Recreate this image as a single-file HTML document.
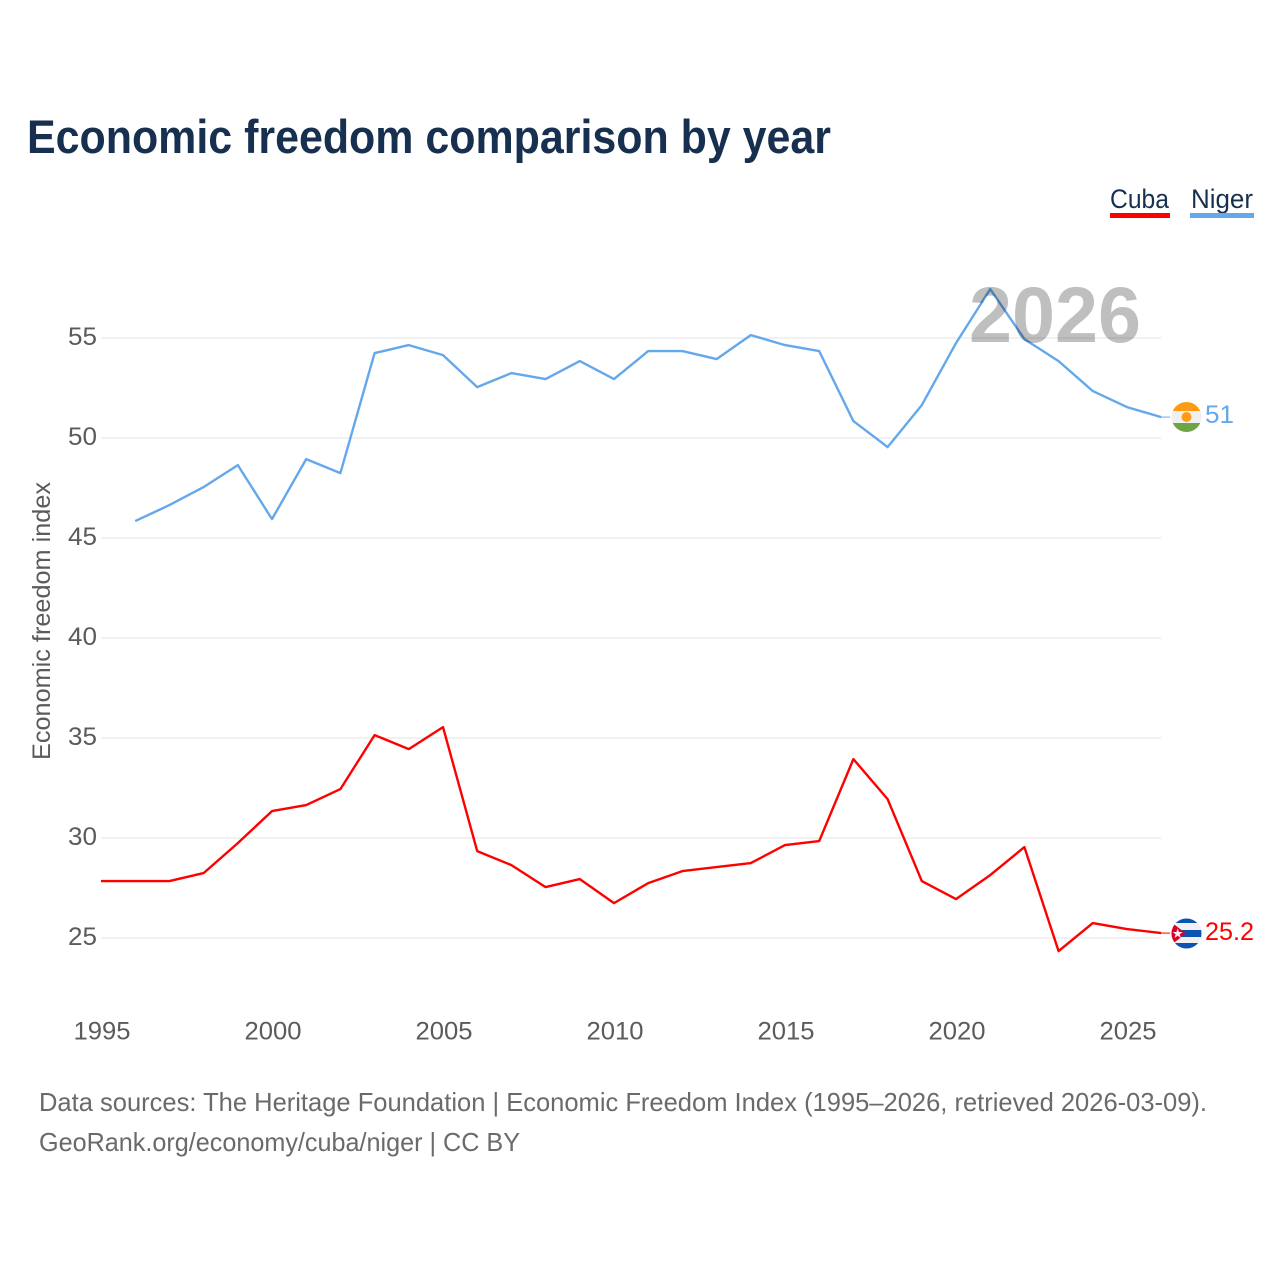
<!DOCTYPE html>
<html lang="en">
<head>
<meta charset="utf-8">
<title>Economic freedom comparison by year</title>
<style>
html,body{margin:0;padding:0;background:#fff}
svg{display:block}
text{font-family:"Liberation Sans",sans-serif}
</style>
</head>
<body>
<svg id="chart" xmlns="http://www.w3.org/2000/svg" width="1280" height="1280" viewBox="0 0 1280 1280">
  <rect width="1280" height="1280" fill="#fff"/>
  <text x="27" y="153" font-size="47" font-weight="700" fill="#18304f" textLength="804" lengthAdjust="spacingAndGlyphs">Economic freedom comparison by year</text>

  <g>
    <text x="1110" y="208" font-size="27" fill="#18304f" textLength="59" lengthAdjust="spacingAndGlyphs">Cuba</text>
    <rect x="1110" y="213" width="60" height="5" fill="#ff0000"/>
  </g>
  <g>
    <text x="1191" y="208" font-size="27" fill="#18304f" textLength="62" lengthAdjust="spacingAndGlyphs">Niger</text>
    <rect x="1190" y="213" width="64" height="5" fill="#64a8ec"/>
  </g>

  <g id="grid"></g>
  <g id="yticks"></g>
  <g id="xticks"></g>
  <text transform="translate(50,621) rotate(-90)" text-anchor="middle" font-size="25" fill="#5b5b5b" textLength="278" lengthAdjust="spacingAndGlyphs">Economic freedom index</text>

  <g id="series"></g>
  <text x="969" y="342" font-size="79" font-weight="700" fill="#000" fill-opacity="0.25" textLength="172" lengthAdjust="spacingAndGlyphs">2026</text>

  <defs>
    <clipPath id="clip-niger"><circle cx="1186.5" cy="417" r="15"/></clipPath>
    <clipPath id="clip-cuba"><circle cx="1186.5" cy="933.5" r="15"/></clipPath>
  </defs>
  <g clip-path="url(#clip-niger)">
    <rect x="1171" y="402" width="31" height="9.5" fill="#ff9a17"/>
    <rect x="1171" y="411" width="31" height="12" fill="#f0f0f0"/>
    <rect x="1171" y="423" width="31" height="9" fill="#6da544"/>
    <circle cx="1186.5" cy="417" r="5" fill="#ff9a17"/>
  </g>
  <g clip-path="url(#clip-cuba)">
    <rect x="1171" y="918" width="31" height="31" fill="#f0f0f0"/>
    <rect x="1171" y="918" width="31" height="5" fill="#0a52b4"/>
    <rect x="1171" y="930" width="31" height="7" fill="#0a52b4"/>
    <rect x="1171" y="943" width="31" height="6" fill="#0a52b4"/>
    <polygon points="1171,922 1186,933.5 1171,945" fill="#d80027"/>
    <polygon points="1177.7,928.5 1179,932 1182.7,932 1179.8,934.3 1180.8,938 1177.7,935.8 1174.6,938 1175.6,934.3 1172.7,932 1176.4,932" fill="#f0f0f0"/>
  </g>
  <text x="1205" y="423" font-size="25" fill="#64a8ec" textLength="29" lengthAdjust="spacingAndGlyphs">51</text>
  <text x="1205" y="940" font-size="25" fill="#ff0000" textLength="49" lengthAdjust="spacingAndGlyphs">25.2</text>

  <text x="39" y="1111" font-size="26" fill="#6a6a6a" textLength="1168" lengthAdjust="spacingAndGlyphs">Data sources: The Heritage Foundation | Economic Freedom Index (1995–2026, retrieved 2026-03-09).</text>
  <text x="39" y="1151" font-size="26" fill="#6a6a6a" textLength="481" lengthAdjust="spacingAndGlyphs">GeoRank.org/economy/cuba/niger | CC BY</text>
</svg>
<script>
const years = [1995,1996,1997,1998,1999,2000,2001,2002,2003,2004,2005,2006,2007,2008,2009,2010,2011,2012,2013,2014,2015,2016,2017,2018,2019,2020,2021,2022,2023,2024,2025,2026];
const cubaValues = [27.8,27.8,27.8,28.2,29.7,31.3,31.6,32.4,35.1,34.4,35.5,29.3,28.6,27.5,27.9,26.7,27.7,28.3,28.5,28.7,29.6,29.8,33.9,31.9,27.8,26.9,28.1,29.5,24.3,25.7,25.4,25.2];
const nigerValues = [null,45.8,46.6,47.5,48.6,45.9,48.9,48.2,54.2,54.6,54.1,52.5,53.2,52.9,53.8,52.9,54.3,54.3,53.9,55.1,54.6,54.3,50.8,49.5,51.6,54.7,57.4,54.9,53.8,52.3,51.5,51];
const yTickValues = [25,30,35,40,45,50,55];
const xTickValues = [1995,2000,2005,2010,2015,2020,2025];

const NS = 'http://www.w3.org/2000/svg';
const xScale = function (year) { return 101 + (year - 1995) * 34.2; };
const yScale = function (value) { return 937.1 - (value - 25) * 20; };

const gridGroup = document.getElementById('grid');
const yTickGroup = document.getElementById('yticks');
const xTickGroup = document.getElementById('xticks');
const seriesGroup = document.getElementById('series');

yTickValues.forEach(function (v) {
  const line = document.createElementNS(NS, 'line');
  
  
  line.setAttribute('x1', xScale(1995));
  line.setAttribute('x2', xScale(2026));
  line.setAttribute('y1', yScale(v) + 0.9);
  line.setAttribute('y2', yScale(v) + 0.9);
  line.setAttribute('stroke', '#f1f1f1');
  line.setAttribute('stroke-width', '2');
  gridGroup.appendChild(line);

  const label = document.createElementNS(NS, 'text');
  
  
  label.setAttribute('x', '97');
  label.setAttribute('y', yScale(v) + 8);
  label.setAttribute('text-anchor', 'end');
  label.setAttribute('font-size', '25');
  label.setAttribute('fill', '#5b5b5b');
  label.setAttribute('textLength', '29');
  label.setAttribute('lengthAdjust', 'spacingAndGlyphs');
  label.textContent = String(v);
  yTickGroup.appendChild(label);
});

xTickValues.forEach(function (year) {
  const label = document.createElementNS(NS, 'text');
  
  
  label.setAttribute('x', xScale(year) + 1);
  label.setAttribute('y', '1039.5');
  label.setAttribute('text-anchor', 'middle');
  label.setAttribute('font-size', '25');
  label.setAttribute('fill', '#5b5b5b');
  label.setAttribute('textLength', '57');
  label.setAttribute('lengthAdjust', 'spacingAndGlyphs');
  label.textContent = String(year);
  xTickGroup.appendChild(label);
});

function drawSeries(values, color, name) {
  let d = '';
  let lastX = 0;
  let lastY = 0;
  values.forEach(function (v, i) {
    if (v === null) return;
    lastX = xScale(years[i]);
    lastY = yScale(v);
    d += (d ? 'L' : 'M') + lastX.toFixed(2) + ' ' + lastY.toFixed(2);
  });
  const connector = document.createElementNS(NS, 'line');
  
  
  connector.setAttribute('x1', lastX);
  connector.setAttribute('y1', lastY);
  connector.setAttribute('x2', lastX + 9);
  connector.setAttribute('y2', lastY);
  connector.setAttribute('stroke', color);
  connector.setAttribute('stroke-width', '1');
  seriesGroup.appendChild(connector);

  const path = document.createElementNS(NS, 'path');
  
  
  path.setAttribute('d', d);
  path.setAttribute('fill', 'none');
  path.setAttribute('stroke', color);
  path.setAttribute('stroke-width', '2.4');
  path.setAttribute('stroke-linejoin', 'round');
  seriesGroup.appendChild(path);
}
drawSeries(nigerValues, '#64a8ec', 'niger');
drawSeries(cubaValues, '#ff0000', 'cuba');
</script>
</body>
</html>
